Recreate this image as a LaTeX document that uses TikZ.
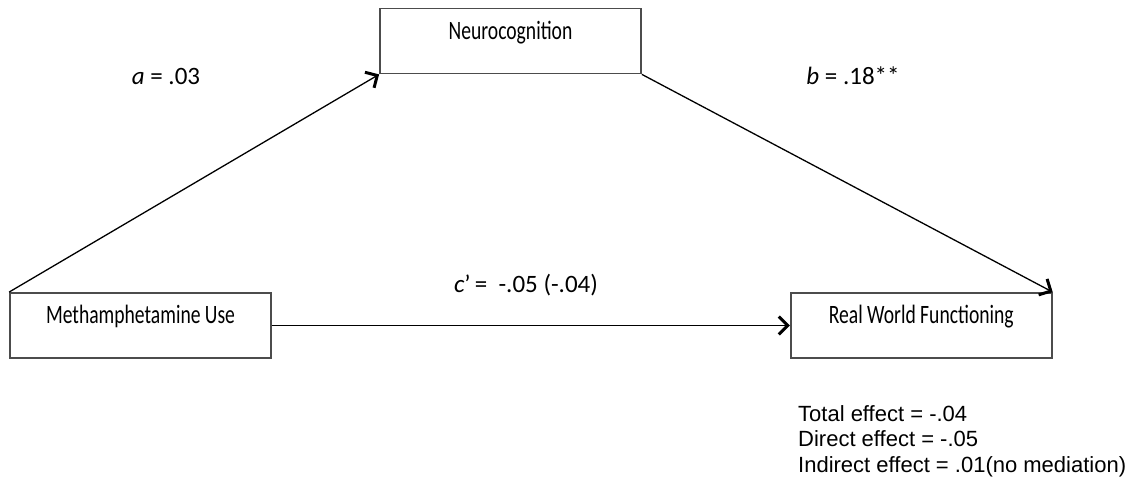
\documentclass[tikz,border=0pt]{standalone}
\usepackage{fontspec}
\setmainfont{Carlito}
\newfontfamily\arialfont{Liberation Sans}
\usepackage{graphicx}
\usetikzlibrary{positioning,arrows.meta}

\newcommand{\boxtext}[1]{\scalebox{0.74}[1]{#1}}

\begin{document}
\begin{tikzpicture}[x=1pt, y=-1pt,
      var/.style={rectangle, draw=black!70, line width=1.8pt, minimum width=261pt, minimum height=65pt,
        inner sep=0pt, text height=16pt, text depth=19pt, font=\fontsize{26.5}{30}\selectfont},
      coef/.style={inner sep=0pt, font=\fontsize{25}{30}\selectfont},
      path/.style={line width=1.3pt, -{Straight Barb[length=9pt, width=18pt, line width=3pt]}},
    ]
    \useasboundingbox (0,0) rectangle (1130,478);

    % Nodes
    \node[var] (meth) at (140.5,325.5) {\boxtext{Methamphetamine Use}};
    \node[var] (rwf) [right=518pt of meth] {\boxtext{Real World Functioning}};
    \node[var] (neuro) at (510.5,41) {\boxtext{Neurocognition}};

    \node[coef] (acoef) at (166,76) {\textit{a} = .03};
    \node[coef] (bcoef) at (853,76) {\textit{b} = .18**};
    \node[coef] (ccoef) at (526,285) {\textit{c}'\,=\ \ -.05 (-.04)};

    \node[anchor=north west, inner sep=0pt, align=left, font=\arialfont\fontsize{22}{25.5}\selectfont] (effects) at (798,405)
      {Total effect = -.04\\Direct effect = -.05\\Indirect effect = .01(no mediation)};

    % Arrows
    \draw[path] (meth.north west) -- (neuro.south west);
    \draw[path] (neuro.south east) -- (rwf.north east);
    \draw[path] (meth.east) -- (rwf.west);
  \end{tikzpicture}
\end{document}
